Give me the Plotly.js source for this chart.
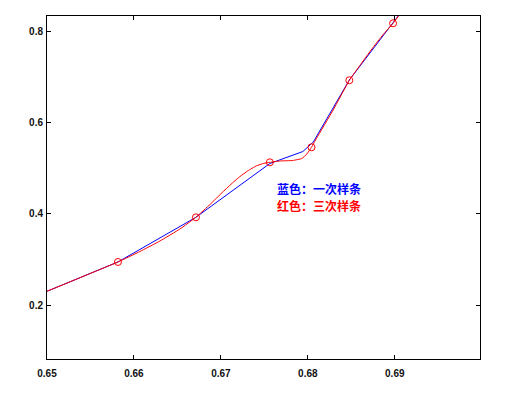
<!DOCTYPE html>
<html>
<head>
<meta charset="utf-8">
<script src="https://cdn.plot.ly/plotly-3.0.1.min.js"></script>
<style>html,body{margin:0;padding:0;background:#fff;}#chart{width:517px;height:395px;}</style>
</head>
<body>
<div id="chart"></div>
<script>
// Data nodes (circles)
const nodeX = [0.65816, 0.66713, 0.67563, 0.68042, 0.68477, 0.68980];
const nodeY = [0.2948, 0.3925, 0.5128, 0.5456, 0.6922, 0.8168];

// Blue: linear interpolation curve
const linX = [0.65, 0.65816, 0.66713, 0.67563, 0.67943, 0.68063, 0.68477, 0.68980, 0.6910];
const linY = [0.2307, 0.2948, 0.3925, 0.5102, 0.5364, 0.5572, 0.6928, 0.8168, 0.848];

// Red: cubic spline curve
const splX = [0.65, 0.65816, 0.66069, 0.66299, 0.66529, 0.66713, 0.66874, 0.67026, 0.67138, 0.67218,
              0.67308, 0.67410, 0.67494, 0.67563, 0.67678, 0.67828, 0.67931, 0.67989, 0.68042,
              0.68100, 0.68291, 0.68477, 0.68598, 0.68736, 0.68862, 0.68980, 0.6910];
const splY = [0.2307, 0.2948, 0.3177, 0.3407, 0.3669, 0.3925, 0.4205, 0.4487, 0.4686, 0.4815,
              0.4940, 0.5052, 0.5106, 0.5128, 0.5157, 0.5168, 0.5211, 0.5310, 0.5456,
              0.5653, 0.6272, 0.6922, 0.7245, 0.7606, 0.7913, 0.8168, 0.848];

const xTicks = [0.65, 0.66, 0.67, 0.68, 0.69];
const xTickText = ['0.65', '0.66', '0.67', '0.68', '0.69'];
const yTicks = [0.2, 0.4, 0.6, 0.8];
const yTickText = ['0.2', '0.4', '0.6', '0.8'];

const labelBlue = '蓝色：一次样条';
const labelRed = '红色：三次样条';

const traces = [
  {x: linX, y: linY, mode: 'lines', line: {color: '#0000ff', width: 1}, hoverinfo: 'skip'},
  {x: splX, y: splY, mode: 'lines', line: {color: '#ff0000', width: 1, shape: 'spline', smoothing: 0.3}, hoverinfo: 'skip'},
  {x: nodeX, y: nodeY, mode: 'markers', marker: {symbol: 'circle-open', size: 7, color: '#ff0000', line: {width: 1, color: '#ff0000'}}, hoverinfo: 'skip'}
];

const axisCommon = {
  showgrid: false, zeroline: false, showline: true, linecolor: '#000', linewidth: 1,
  mirror: 'ticks', ticks: 'inside', ticklen: 4, tickcolor: '#000', tickwidth: 1,
  tickfont: {family: 'Liberation Sans, Arial, sans-serif', size: 10, color: '#111', weight: 'bold'}
};

const layout = {
  width: 517, height: 395,
  margin: {l: 47, r: 37, t: 16, b: 36},
  paper_bgcolor: '#fff', plot_bgcolor: '#fff',
  showlegend: false,
  xaxis: Object.assign({}, axisCommon, {range: [0.65, 0.6998], tickvals: xTicks, ticktext: xTickText, ticklabelstandoff: 5}),
  yaxis: Object.assign({}, axisCommon, {range: [0.0826, 0.8328], tickvals: yTicks, ticktext: yTickText, ticklabelstandoff: 1}),
  annotations: [
    {x: 0.6762, y: 0.455, xref: 'x', yref: 'y', text: labelBlue, showarrow: false, xanchor: 'left', yanchor: 'middle',
     font: {family: 'Noto Sans CJK SC', size: 12, color: '#0000ff', weight: 'bold'}},
    {x: 0.6762, y: 0.4184, xref: 'x', yref: 'y', text: labelRed, showarrow: false, xanchor: 'left', yanchor: 'middle',
     font: {family: 'Noto Sans CJK SC', size: 12, color: '#ff0000', weight: 'bold'}}
  ]
};

Plotly.newPlot('chart', traces, layout, {staticPlot: true, displayModeBar: false});
</script>
</body>
</html>
